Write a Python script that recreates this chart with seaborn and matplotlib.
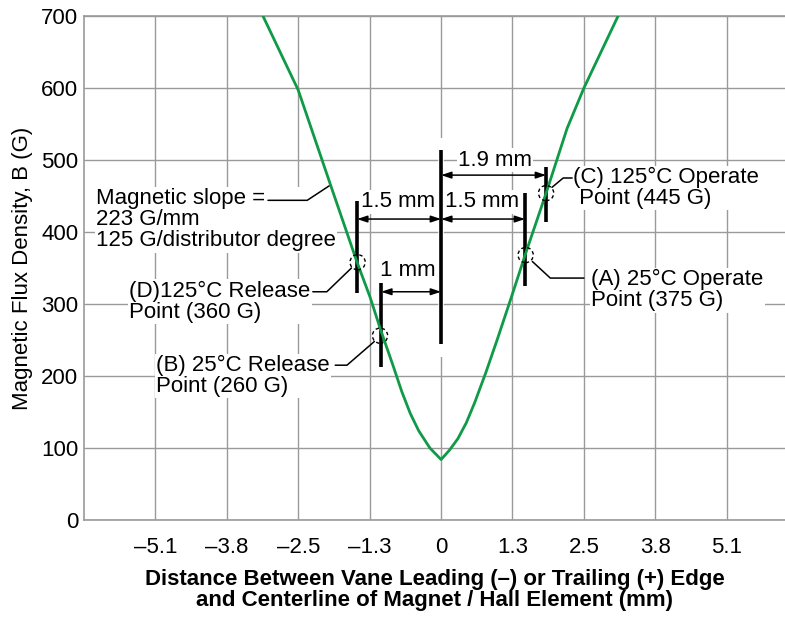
import numpy as np
import pandas as pd
import matplotlib
matplotlib.use("Agg")
import matplotlib.pyplot as plt
import seaborn as sns

# ------------------------------------------------------------------ data
# flux curve (mm, gauss)
curve_x = [-3.18, -2.55, -2.16, -1.95, -1.50, -1.27, -1.07, -0.86, -0.70,
           -0.55, -0.40, -0.20, 0.0, 0.15, 0.30, 0.45, 0.60, 0.80, 1.00,
           1.27, 1.50, 1.875, 2.25, 2.55, 3.16]
curve_y = [700, 597, 508, 460, 358, 310, 262, 215, 178,
           148, 124, 100, 84, 97, 113, 135, 163, 205, 250,
           313, 368, 454, 544, 600, 700]

# gridlines sit every 1.275 mm, labelled with rounded values
grid_step = 1.275
tick_labels = ["–5.1", "–3.8", "–2.5", "–1.3", "0", "1.3", "2.5", "3.8", "5.1"]
y_ticks = [0, 100, 200, 300, 400, 500, 600, 700]

# switch points (x mm, B gauss) and the black marker bars (x, y0, y1)
point_x = [-1.49, -1.09, 1.51, 1.875]
point_y = [358, 256, 368, 454]
bar_x = [0.0, -1.5, -1.07, 1.5, 1.875]
bar_y0 = [244, 315, 213, 325, 414]
bar_y1 = [514, 443, 329, 454, 490]

# dimension arrows: (x_start, x_end, y, label, label_x, label_y)
dim_arrows = [
    (0.0, 1.875, 479, "1.9 mm", 0.96, 500),
    (-1.5, 0.0, 418, "1.5 mm", -0.77, 442),
    (0.0, 1.5, 418, "1.5 mm", 0.73, 442),
    (-1.07, 0.0, 317, "1 mm", -0.60, 347),
]

# callouts: text, text x/y (left edge, block centre), leader polyline
callouts = [
    ("Magnetic slope =\n223 G/mm\n125 G/distributor degree", -6.16, 417,
     [(-3.09, 444), (-2.39, 444), (-1.98, 465)]),
    ("(D)125°C Release\nPoint (360 G)", -5.57, 303,
     [(-2.29, 317), (-2.04, 317), (-1.60, 350)]),
    ("(B) 25°C Release\nPoint (260 G)", -5.09, 200,
     [(-1.89, 215), (-1.68, 215), (-1.19, 248)]),
    ("(A) 25°C Operate\nPoint (375 G)", 2.68, 319,
     [(1.63, 359), (1.95, 336), (2.55, 336)]),
    ("(C) 125°C Operate\n Point (445 G)", 2.36, 461,
     [(1.98, 462), (2.18, 475), (2.34, 475)]),
]

GREEN = "#0f9a47"
GRID = "#9a9a9a"


def main():
    sns.set_theme(style="whitegrid")
    plt.rcParams["font.family"] = ["Liberation Sans", "DejaVu Sans"]

    fig = plt.figure(figsize=(7.85, 6.18), dpi=100)
    ax = fig.add_axes([84 / 785, 1 - 520 / 618, 701 / 785, 504 / 618])

    df = pd.DataFrame({"x": curve_x, "y": curve_y})
    sns.lineplot(data=df, x="x", y="y", sort=False, estimator=None,
                 color=GREEN, lw=2.0, ax=ax, zorder=4)

    # marker bars, with a white gap where the centre bar meets its gridline
    ax.vlines(0.0, 226, 530, color="white", lw=4, zorder=2)
    ax.vlines(bar_x, bar_y0, bar_y1, color="black", lw=2.6, zorder=3)

    ax.scatter(point_x, point_y, s=120, facecolors="none", edgecolors="black",
               linewidths=1.0, linestyle=(0, (2.5, 2)), zorder=5)

    for x0, x1, y, lab, lx, ly in dim_arrows:
        ax.annotate("", xy=(x1, y), xytext=(x0, y),
                    arrowprops=dict(arrowstyle="<|-|>,head_length=0.6,head_width=0.2",
                                    color="black", lw=1.1, shrinkA=0, shrinkB=0,
                                    mutation_scale=10), zorder=3)
        ax.text(lx, ly, lab, fontsize=16, ha="center", va="center", zorder=3,
                color="black",
                bbox=dict(facecolor="white", edgecolor="none", pad=1))

    for txt, tx, ty, leader in callouts:
        ax.text(tx, ty, txt, fontsize=16, ha="left", va="center",
                linespacing=1.0, zorder=3, color="black",
                bbox=dict(facecolor="white", edgecolor="none", pad=1))
        lx, ly = zip(*leader)
        ax.plot(lx, ly, color="black", lw=1.1, zorder=3)

    # axes / grid
    ax.set_xlim(-5 * grid_step, 6.14)
    ax.set_ylim(0, 700)
    ax.set_xticks([k * grid_step for k in range(-4, 5)])
    ax.set_xticklabels(tick_labels)
    ax.set_yticks(y_ticks)
    ax.grid(True, color=GRID, lw=1.0)
    ax.tick_params(axis="x", length=0, pad=12, labelsize=16, colors="black")
    ax.tick_params(axis="y", length=0, pad=4, labelsize=16, colors="black")
    for side in ["left", "bottom", "top"]:
        ax.spines[side].set_color(GRID)
        ax.spines[side].set_linewidth(1.2)
    ax.spines["right"].set_visible(False)

    ax.set_ylabel("Magnetic Flux Density, B (G)", fontsize=16, labelpad=6,
                  color="black")
    ax.set_xlabel("Distance Between Vane Leading (–) or Trailing (+) Edge\n"
                  "and Centerline of Magnet / Hall Element (mm)",
                  fontsize=16, fontweight="bold", labelpad=8, linespacing=1.0,
                  color="black",
                  family=["Liberation Sans Narrow", "Liberation Sans"])

    fig.savefig("out.png", dpi=100)
    plt.close(fig)


if __name__ == "__main__":
    main()
